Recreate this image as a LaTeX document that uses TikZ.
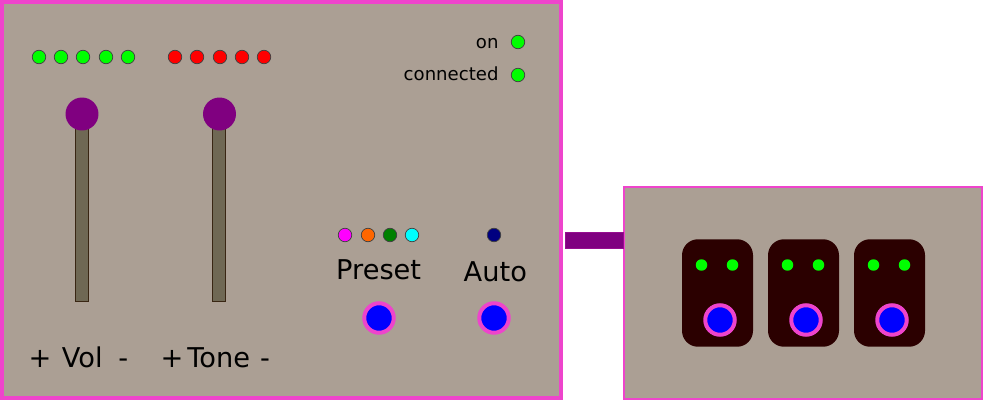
\documentclass[tikz,border=0pt]{standalone}
\usepackage{fontspec}
\setmainfont{DejaVu Sans}
\definecolor{panelgris}{HTML}{AB9F94}
\definecolor{bordero}{HTML}{EE44CC}
\definecolor{palanca}{HTML}{6F6854}
\definecolor{pedal}{HTML}{2B0000}
\definecolor{morado}{HTML}{800080}
\definecolor{naranja}{HTML}{FF6600}
\definecolor{verdeosc}{HTML}{008000}
\definecolor{rosa}{HTML}{FF00FF}
\definecolor{celeste}{HTML}{00FFFF}
\definecolor{marino}{HTML}{000080}
\definecolor{verdeled}{HTML}{00FF00}
\definecolor{rojoled}{HTML}{FF0000}
\definecolor{azul}{HTML}{0000FF}
\begin{document}
\begin{tikzpicture}[x=0.02cm, y=-0.02cm,
	every node/.style={inner sep=0pt, outer sep=0pt},
	caja/.style={rectangle, fill=panelgris, draw=bordero},
	led/.style={circle, minimum size=0.27cm, draw=black!75, line width=0.4pt},
	ledpedal/.style={circle, minimum size=0.23cm, fill=verdeled},
	perilla/.style={circle, minimum size=0.66cm, fill=morado},
	barra/.style={rectangle, minimum width=0.26cm, minimum height=3.52cm, fill=palanca, draw=black!70!brown, line width=0.5pt},
	boton/.style={circle, minimum size=0.59cm, fill=azul, draw=bordero, line width=0.08cm},
	etiqueta/.style={font=\fontsize{15.5}{18}\selectfont, anchor=base},
	chica/.style={font=\fontsize{10.3}{12}\selectfont, anchor=base east},
	pedalera/.style={rectangle, rounded corners=0.32cm, minimum width=1.42cm, minimum height=2.15cm, fill=pedal}]
	\useasboundingbox (0,0) rectangle (984,402);
	% consola principal
	\node[caja, line width=0.08cm, minimum width=11.18cm, minimum height=7.92cm] (consola) at (281.5,200) {};
	% leds de volumen y tono
	\node[led, fill=verdeled] (vol1) at (39,57) {};
	\node[led, fill=verdeled] (vol2) at (61,57) {};
	\node[led, fill=verdeled] (vol3) at (83,57) {};
	\node[led, fill=verdeled] (vol4) at (106,57) {};
	\node[led, fill=verdeled] (vol5) at (128,57) {};
	\node[led, fill=rojoled] (tono1) at (175,57) {};
	\node[led, fill=rojoled] (tono2) at (197,57) {};
	\node[led, fill=rojoled] (tono3) at (220,57) {};
	\node[led, fill=rojoled] (tono4) at (242,57) {};
	\node[led, fill=rojoled] (tono5) at (264,57) {};
	% palancas
	\node[barra] (barraVol) at (81.5,213) {};
	\node[barra] (barraTono) at (219,213) {};
	\node[perilla] (perillaVol) at (82,114) {};
	\node[perilla] (perillaTono) at (219.5,114) {};
	\node[etiqueta] (masVol) at (40,367) {+};
	\node[etiqueta] (nomVol) at (82.3,367) {Vol};
	\node[etiqueta] (menosVol) at (123.3,367) {-};
	\node[etiqueta] (masTono) at (172,367) {+};
	\node[etiqueta] (nomTono) at (218.8,367) {Tone};
	\node[etiqueta] (menosTono) at (265,367) {-};
	% estado
	\node[chica] (on) at (498.5,48.3) {on};
	\node[led, fill=verdeled] (ledOn) at (518,42) {};
	\node[chica] (conectado) at (498.5,81) {connected};
	\node[led, fill=verdeled] (ledConectado) at (518,75) {};
	% preset y auto
	\node[led, fill=rosa] (preset1) at (345,235) {};
	\node[led, fill=naranja] (preset2) at (368,235) {};
	\node[led, fill=verdeosc] (preset3) at (390,235) {};
	\node[led, fill=celeste] (preset4) at (412,235) {};
	\node[led, fill=marino] (ledAuto) at (494,235) {};
	\node[etiqueta] (preset) at (378.7,279) {Preset};
	\node[etiqueta] (auto) at (495.3,281) {Auto};
	\node[boton] (botonPreset) at (379,318) {};
	\node[boton] (botonAuto) at (494,318) {};
	% pedalera
	\node[caja, line width=0.04cm, minimum width=7.16cm, minimum height=4.24cm] (lateral) at (803,293) {};
	\node[rectangle, minimum width=1.16cm, minimum height=0.32cm, fill=morado, draw=morado!80!bordero, line width=0.3pt] (cable) at (594,240) {};
	\node[pedalera] (pedal1) at (717.5,293) {};
	\node[pedalera] (pedal2) at (803.5,293) {};
	\node[pedalera] (pedal3) at (889.5,293) {};
	\node[ledpedal] (p1a) at (701.5,265) {};
	\node[ledpedal] (p1b) at (732.5,265) {};
	\node[ledpedal] (p2a) at (787.5,265) {};
	\node[ledpedal] (p2b) at (818.5,265) {};
	\node[ledpedal] (p3a) at (873.5,265) {};
	\node[ledpedal] (p3b) at (904.5,265) {};
	\node[boton] (boton1) at (720,320) {};
	\node[boton] (boton2) at (806,320) {};
	\node[boton] (boton3) at (892,320) {};
	\end{tikzpicture}
\end{document}
